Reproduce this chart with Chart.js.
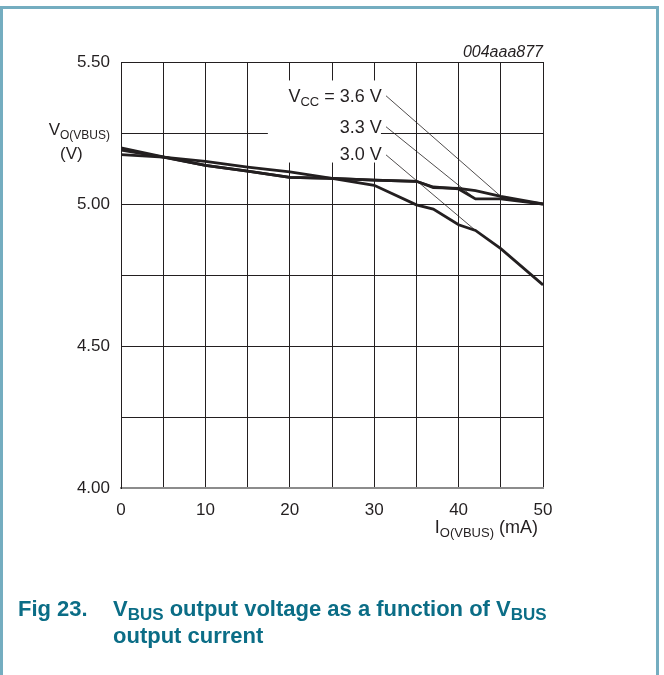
<!DOCTYPE html>
<html>
<head>
<meta charset="utf-8">
<script src="https://cdn.jsdelivr.net/npm/chart.js@4.4.0/dist/chart.umd.min.js"></script>
<style>
  html, body { margin: 0; padding: 0; background: #fff; }
  canvas { display: block; }
</style>
</head>
<body>
<canvas id="chart" width="664" height="675"></canvas>
<script>
// values: output current (mA) vs V_O(VBUS) (V)
const currents = [0, 5, 10, 15, 20, 25, 30, 35, 37, 40, 42, 45, 50];
const vcc36 = [5.198, 5.166, 5.136, 5.116, 5.094, 5.090, 5.084, 5.080, 5.058, 5.055, 5.047, 5.027, 5.000];
const vcc33 = [5.190, 5.165, 5.136, 5.116, 5.094, 5.090, 5.084, 5.080, 5.060, 5.053, 5.018, 5.018, 5.000];
const vcc30 = [5.174, 5.165, 5.150, 5.130, 5.113, 5.090, 5.066, 4.997, 4.982, 4.927, 4.907, 4.843, 4.715];
const seriesNames = ["3.6 V", "3.3 V", "3.0 V"];
const yLabelValues = [4.0, 4.5, 5.0, 5.5];
const xLabelValues = [0, 10, 20, 30, 40, 50];

const INK = "#231f20";
const CAPTION = "#0b6d86";
const FRAME = "#74adc0";
const FONT = "'Liberation Sans', Arial, sans-serif";

// where each leader line touches its curve (index into currents)
const leaderHit = [11, 10, 10];

function rich(ctx, parts, x, y, align) {
  // parts: [text, isSub]; y is the baseline of the main text
  const big = ctx._big, small = ctx._small;
  let w = 0;
  parts.forEach(([t, sub]) => { ctx.font = sub ? small : big; w += ctx.measureText(t).width; });
  let cx = align === "right" ? x - w : x;
  parts.forEach(([t, sub]) => {
    ctx.font = sub ? small : big;
    ctx.fillText(t, cx, sub ? y + 4 : y);
    cx += ctx.measureText(t).width;
  });
}

const decor = {
  id: "decor",
  beforeDatasetsDraw(chart) {
    const { ctx, scales: { x, y } } = chart;
    // white box behind the V_CC labels hides the grid there
    ctx.save();
    ctx.fillStyle = "#fff";
    const l = x.getPixelForValue(17.4), r = x.getPixelForValue(30.8);
    const t = y.getPixelForValue(5.435), b = y.getPixelForValue(5.146);
    ctx.fillRect(l, t, r - l, b - t);
    ctx.restore();
  },
  afterDatasetsDraw(chart) {
    const { ctx, chartArea: a, scales: { x, y } } = chart;
    ctx.save();
    ctx.fillStyle = INK;
    ctx.textBaseline = "alphabetic";

    // leader lines
    const series = [vcc36, vcc33, vcc30];
    const labelY = [5.381, 5.272, 5.173];
    ctx.strokeStyle = INK;
    ctx.lineWidth = 0.8;
    series.forEach((s, i) => {
      const i2 = leaderHit[i];
      ctx.beginPath();
      ctx.moveTo(x.getPixelForValue(31.4), y.getPixelForValue(labelY[i]));
      ctx.lineTo(x.getPixelForValue(currents[i2]), y.getPixelForValue(s[i2]));
      ctx.stroke();
    });

    // curve labels
    ctx._big = "18px " + FONT;
    ctx._small = "13px " + FONT;
    const lx = x.getPixelForValue(30.9);
    rich(ctx, [["V", 0], ["CC", 1], [" = " + seriesNames[0], 0]], lx, y.getPixelForValue(5.381) + 6, "right");
    rich(ctx, [[seriesNames[1], 0]], lx, y.getPixelForValue(5.272) + 6, "right");
    rich(ctx, [[seriesNames[2], 0]], lx, y.getPixelForValue(5.175) + 6, "right");

    // axis titles
    ctx._big = "17px " + FONT;
    ctx._small = "12px " + FONT;
    rich(ctx, [["V", 0], ["O(VBUS)", 1]], a.left - 11, a.top + 73, "right");
    ctx.font = "17px " + FONT;
    ctx.fillText("(V)", 60, a.top + 97);
    ctx._big = "18px " + FONT;
    ctx._small = "13px " + FONT;
    rich(ctx, [["I", 0], ["O(VBUS)", 1], [" (mA)", 0]], a.right - 5, a.bottom + 45, "right");

    // figure code
    ctx.font = "italic 16px " + FONT;
    ctx.textAlign = "right";
    ctx.fillText("004aaa877", a.right, a.top - 5);
    ctx.textAlign = "left";

    // caption
    ctx.fillStyle = CAPTION;
    ctx._big = "bold 22px " + FONT;
    ctx._small = "bold 17px " + FONT;
    ctx.font = ctx._big;
    ctx.fillText("Fig 23.", 18, 616);
    rich(ctx, [["V", 0], ["BUS", 1], [" output voltage as a function of V", 0], ["BUS", 1]], 113, 616, "left");
    ctx.font = ctx._big;
    ctx.fillText("output current", 113, 643);

    // frame
    ctx.strokeStyle = FRAME;
    ctx.lineWidth = 3;
    ctx.beginPath();
    ctx.moveTo(1.5, 700);
    ctx.lineTo(1.5, 7.5);
    ctx.lineTo(657.5, 7.5);
    ctx.lineTo(657.5, 700);
    ctx.stroke();
    ctx.restore();
  }
};

const near = (v, list) => list.some((t) => Math.abs(t - v) < 1e-6);

new Chart(document.getElementById("chart"), {
  type: "line",
  data: {
    labels: currents,
    datasets: [vcc36, vcc33, vcc30].map((s, i) => ({
      label: seriesNames[i],
      data: s.map((v, j) => ({ x: currents[j], y: v })),
      borderColor: INK,
      borderWidth: 2.8,
      pointRadius: 0,
      tension: 0,
      fill: false,
    })),
  },
  options: {
    responsive: false,
    animation: false,
    devicePixelRatio: 1,
    layout: { padding: { left: 0, right: 121, top: 62, bottom: 0 } },
    plugins: { legend: { display: false }, tooltip: { enabled: false } },
    scales: {
      x: {
        type: "linear",
        min: 0,
        max: 50,
        afterFit: (s) => { s.height = 187; },
        ticks: {
          stepSize: 5,
          autoSkip: false,
          maxRotation: 0,
          padding: 12,
          color: INK,
          font: { family: FONT, size: 17 },
          callback: (v) => (near(v, xLabelValues) ? String(v) : ""),
        },
        grid: { color: INK, lineWidth: 1, drawTicks: false },
        border: { color: "#8c8c8c", width: 2 },
      },
      y: {
        min: 4,
        max: 5.5,
        afterFit: (s) => { s.width = 121; },
        ticks: {
          stepSize: 0.25,
          autoSkip: false,
          padding: 11,
          color: INK,
          font: { family: FONT, size: 17 },
          callback: (v) => (near(v, yLabelValues) ? v.toFixed(2) : ""),
        },
        grid: { color: INK, lineWidth: 1, drawTicks: false },
        border: { color: INK, width: 1 },
      },
    },
  },
  plugins: [decor],
});
</script>
</body>
</html>
